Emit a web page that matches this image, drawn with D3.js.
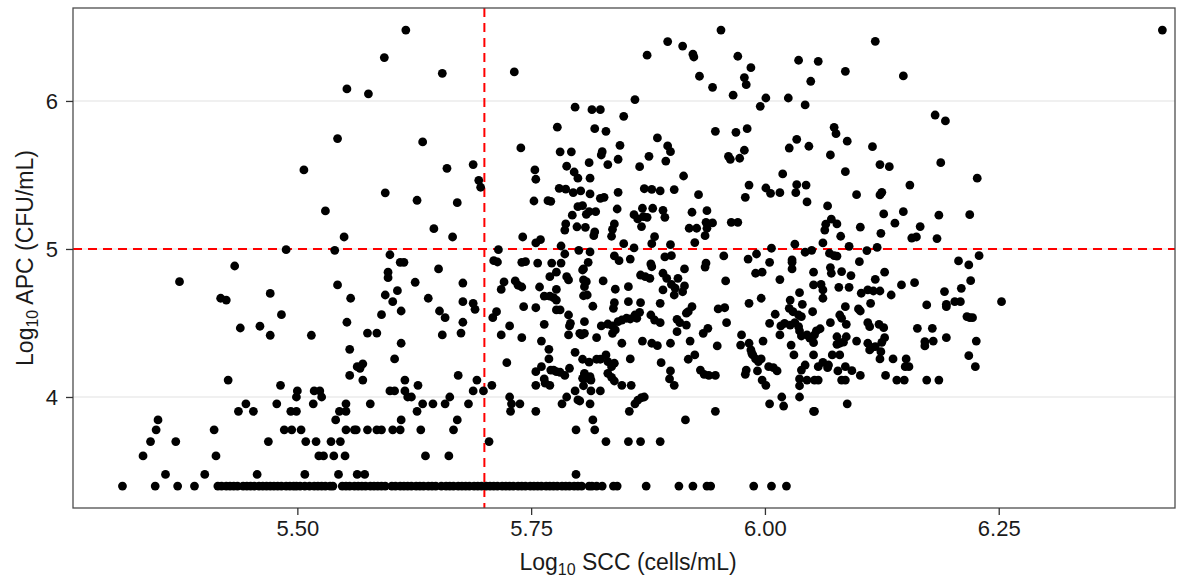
<!DOCTYPE html>
<html>
<head>
<meta charset="utf-8">
<script src="https://cdn.jsdelivr.net/npm/d3@7"></script>
<style>
  html, body { margin: 0; padding: 0; background: #ffffff; }
  svg { display: block; font-family: "Liberation Sans", Arial, Helvetica, sans-serif; }
</style>
</head>
<body>
<svg id="chart" width="1178" height="581"></svg>
<script>
// Axis settings: log10 SCC (cells/mL) on x, log10 APC (CFU/mL) on y
const xTicks = [5.50, 5.75, 6.00, 6.25];
const xTickLabels = ["5.50", "5.75", "6.00", "6.25"];
const yTicks = [4, 5, 6];
const yTickLabels = ["4", "5", "6"];
const sccThreshold = 5.7;   // vertical reference line
const apcThreshold = 5.0;   // horizontal reference line

// Samples whose APC sits at the detection limit (log10 2500 CFU/mL)
const floorApc = 3.398;
const floorScc = [5.313,5.348,5.372,5.390,5.415,5.419,5.424,5.428,5.432,5.436,5.442,5.446,5.450,5.454,5.459,5.463,5.467,5.471,5.475,5.479,5.483,5.488,5.492,5.496,5.499,5.503,5.508,5.513,5.518,5.522,5.526,5.530,5.535,5.538,5.548,5.552,5.556,5.561,5.565,5.569,5.573,5.578,5.582,5.586,5.590,5.594,5.601,5.605,5.610,5.614,5.618,5.622,5.627,5.631,5.635,5.640,5.644,5.648,5.654,5.659,5.663,5.667,5.672,5.676,5.680,5.684,5.689,5.693,5.697,5.702,5.706,5.710,5.714,5.719,5.723,5.727,5.731,5.736,5.740,5.744,5.749,5.753,5.757,5.761,5.766,5.770,5.774,5.778,5.783,5.787,5.791,5.796,5.800,5.804,5.812,5.815,5.820,5.826,5.838,5.842,5.873,5.908,5.923,5.938,5.942,5.988,6.007,6.023];

// [log10 SCC, log10 APC] pairs, upper part of the cloud
const samplesUpper = [
[5.553,6.081],[5.543,5.746],[5.507,5.534],[5.530,5.257],[5.550,5.081],[5.488,4.995],[5.540,4.991],[5.433,4.885],
[5.616,6.479],[5.593,6.293],[5.655,6.187],[5.732,6.196],[5.576,6.048],[5.797,5.958],[5.778,5.823],[5.634,5.723],[5.739,5.683],[5.781,5.656],[5.793,5.656],[5.660,5.545],[5.688,5.570],[5.788,5.559],[5.796,5.520],[5.800,5.478],[5.754,5.534],[5.755,5.471],[5.694,5.464],[5.696,5.417],[5.594,5.379],[5.780,5.410],[5.787,5.404],[5.795,5.381],[5.803,5.392],[5.813,5.372],[5.628,5.329],[5.671,5.313],[5.753,5.324],[5.768,5.326],[5.771,5.322],[5.800,5.286],[5.805,5.293],[5.794,5.228],[5.809,5.234],[5.787,5.169],[5.786,5.128],[5.799,5.150],[5.808,5.146],[5.646,5.137],[5.666,5.081],[5.741,5.081],[5.755,5.041],[5.760,5.063],[5.782,5.020],[5.786,4.966],[5.801,4.991],[5.715,4.995],[5.599,4.961],[5.610,4.910],[5.614,4.910],[5.710,4.921],[5.714,4.912],[5.740,4.910],[5.744,4.914],[5.757,4.905],[5.772,4.905],[5.782,4.905],[5.811,4.910],
[5.953,6.479],[5.896,6.401],[5.912,6.371],[5.874,6.309],[5.923,6.316],[5.924,6.297],[5.971,6.302],[5.985,6.225],[6.036,6.275],[6.057,6.268],[5.930,6.167],[5.978,6.158],[5.980,6.110],[5.944,6.092],[6.049,6.133],[5.966,6.039],[6.001,6.020],[5.861,6.009],[6.025,6.020],[5.995,5.964],[6.043,5.973],[5.815,5.941],[5.824,5.941],[5.849,5.896],[5.818,5.813],[5.830,5.795],[5.947,5.795],[5.969,5.788],[5.981,5.813],[5.885,5.750],[6.034,5.741],[5.845,5.700],[5.896,5.696],[5.899,5.657],[6.026,5.682],[6.047,5.694],[5.978,5.667],[5.826,5.657],[5.825,5.635],[5.961,5.626],[5.963,5.606],[5.973,5.613],[5.876,5.626],[5.843,5.606],[5.894,5.594],[5.812,5.583],[5.832,5.570],[5.866,5.556],[5.913,5.493],[6.019,5.507],[5.813,5.478],[5.983,5.432],[6.001,5.412],[6.006,5.376],[6.016,5.380],[6.034,5.434],[6.033,5.380],[6.044,5.432],[6.045,5.318],[5.871,5.407],[5.879,5.403],[5.888,5.392],[5.903,5.401],[5.843,5.383],[5.929,5.367],[5.824,5.342],[5.828,5.349],[5.979,5.349],[5.812,5.252],[5.819,5.252],[5.842,5.270],[5.869,5.275],[5.880,5.275],[5.860,5.232],[5.864,5.203],[5.870,5.218],[5.874,5.214],[5.868,5.151],[5.891,5.261],[5.893,5.214],[5.922,5.248],[5.938,5.259],[5.937,5.180],[5.944,5.176],[5.938,5.140],[5.936,5.090],[5.964,5.180],[5.971,5.180],[5.919,5.140],[5.927,5.140],[5.839,5.169],[5.837,5.133],[5.836,5.086],[5.818,5.115],[5.817,5.090],[5.882,5.083],[5.879,5.036],[5.925,5.043],[5.849,5.036],[5.899,5.029],[5.860,5.007],[5.813,4.980],[6.007,5.005],[6.032,5.032],[6.043,4.978],[6.050,4.991],[5.991,4.966],[5.956,4.953],[5.982,4.932],[5.839,4.953],[5.844,4.921],[5.856,4.932],[5.893,4.946],[5.900,4.955],[5.878,4.899],[5.937,4.905],[6.005,4.910],[6.029,4.910],
[6.118,6.403],[6.086,6.200],[6.148,6.169],[6.182,5.905],[6.193,5.865],[6.074,5.822],[6.076,5.779],[6.088,5.728],[6.115,5.691],[6.070,5.635],[6.188,5.583],[6.123,5.570],[6.133,5.556],[6.086,5.522],[6.227,5.478],[6.155,5.432],[6.098,5.367],[6.123,5.365],[6.125,5.383],[6.067,5.291],[6.127,5.237],[6.148,5.252],[6.186,5.228],[6.219,5.232],[6.071,5.201],[6.065,5.167],[6.064,5.128],[6.077,5.169],[6.102,5.147],[6.139,5.174],[6.166,5.151],[6.081,5.086],[6.124,5.106],[6.157,5.074],[6.162,5.081],[6.184,5.070],[6.062,5.041],[6.090,5.018],[6.120,5.011],[6.109,4.989],[6.069,4.971],[6.074,4.955],[6.077,4.951],[6.101,4.914],[6.207,4.919],[6.218,4.892],[6.229,4.955],[6.425,6.479]
];

// [log10 SCC, log10 APC] pairs, lower part of the cloud
const samplesLower = [
[5.374,4.779],[5.418,4.667],[5.424,4.655],[5.471,4.700],[5.543,4.757],[5.557,4.667],[5.483,4.556],[5.439,4.466],[5.460,4.478],[5.471,4.417],[5.515,4.417],[5.553,4.505],[5.556,4.322],[5.564,4.205],[5.567,4.194],[5.570,4.224],[5.556,4.146],[5.570,4.114],[5.426,4.114],[5.482,4.079],[5.500,4.041],[5.499,4.000],[5.518,4.041],[5.524,4.041],[5.526,4.000],[5.478,3.954],[5.445,3.954],[5.437,3.903],[5.453,3.903],[5.517,3.954],[5.552,3.954],[5.493,3.903],[5.499,3.903],[5.545,3.903],[5.552,3.903],[5.541,3.845],[5.351,3.845],[5.349,3.778],[5.343,3.699],[5.370,3.699],[5.335,3.602],[5.411,3.778],[5.413,3.602],[5.486,3.778],[5.494,3.778],[5.504,3.778],[5.469,3.699],[5.509,3.699],[5.520,3.699],[5.536,3.699],[5.546,3.699],[5.552,3.778],[5.561,3.778],[5.523,3.602],[5.528,3.602],[5.539,3.602],[5.551,3.602],
[5.359,3.477],[5.401,3.477],[5.457,3.477],[5.508,3.477],[5.544,3.477],[5.564,3.477],[5.572,3.477],[5.798,3.477],
[5.597,4.843],[5.597,4.806],[5.651,4.865],[5.626,4.775],[5.677,4.770],[5.607,4.718],[5.594,4.689],[5.602,4.644],[5.640,4.667],[5.677,4.644],[5.688,4.633],[5.690,4.592],[5.611,4.581],[5.652,4.581],[5.658,4.536],[5.590,4.556],[5.677,4.505],[5.575,4.432],[5.585,4.432],[5.655,4.419],[5.675,4.432],[5.611,4.363],[5.604,4.257],[5.615,4.114],[5.672,4.146],[5.692,4.114],[5.599,4.041],[5.604,4.041],[5.615,4.041],[5.618,4.000],[5.622,4.000],[5.629,4.079],[5.688,4.041],[5.699,4.041],[5.708,4.079],[5.663,4.000],[5.578,3.954],[5.634,3.954],[5.645,3.954],[5.658,3.954],[5.683,3.954],[5.628,3.903],[5.611,3.845],[5.671,3.845],[5.563,3.778],[5.575,3.778],[5.585,3.778],[5.590,3.778],[5.602,3.778],[5.610,3.778],[5.632,3.778],[5.667,3.778],[5.705,3.699],[5.637,3.602],[5.662,3.602],
[5.777,4.843],[5.770,4.813],[5.788,4.813],[5.790,4.791],[5.805,4.858],[5.721,4.777],[5.718,4.727],[5.733,4.784],[5.736,4.755],[5.740,4.743],[5.759,4.743],[5.777,4.727],[5.764,4.682],[5.770,4.682],[5.774,4.671],[5.777,4.655],[5.742,4.610],[5.755,4.603],[5.777,4.588],[5.781,4.588],[5.790,4.554],[5.713,4.576],[5.709,4.536],[5.727,4.480],[5.764,4.491],[5.792,4.498],[5.791,4.480],[5.807,4.509],[5.718,4.419],[5.740,4.401],[5.761,4.378],[5.769,4.322],[5.790,4.419],[5.802,4.430],[5.804,4.419],[5.797,4.302],[5.769,4.257],[5.724,4.232],[5.761,4.205],[5.755,4.171],[5.771,4.182],[5.774,4.182],[5.777,4.171],[5.781,4.167],[5.786,4.146],[5.791,4.194],[5.807,4.146],[5.764,4.122],[5.765,4.093],[5.770,4.079],[5.755,4.079],[5.797,4.041],[5.806,4.076],[5.727,4.000],[5.729,3.954],[5.728,3.903],[5.738,3.954],[5.755,3.903],[5.788,4.000],[5.783,3.954],[5.800,3.980],[5.798,3.778],
[5.806,4.865],[5.806,4.791],[5.809,4.779],[5.807,4.745],[5.806,4.684],[5.810,4.689],[5.827,4.784],[5.840,4.728],[5.854,4.745],[5.867,4.824],[5.872,4.813],[5.877,4.802],[5.879,4.880],[5.891,4.836],[5.895,4.802],[5.900,4.761],[5.907,4.802],[5.904,4.735],[5.903,4.689],[5.891,4.723],[5.914,4.865],[5.914,4.750],[5.912,4.711],[5.936,4.878],[5.958,4.784],[5.990,4.836],[5.997,4.843],[6.016,4.793],[5.816,4.613],[5.838,4.599],[5.839,4.637],[5.854,4.644],[5.867,4.637],[5.888,4.633],[5.922,4.610],[5.918,4.576],[5.916,4.566],[5.950,4.595],[5.957,4.603],[5.983,4.633],[5.996,4.667],[5.807,4.430],[5.825,4.480],[5.832,4.493],[5.837,4.480],[5.840,4.453],[5.843,4.509],[5.847,4.520],[5.852,4.532],[5.856,4.527],[5.861,4.554],[5.866,4.572],[5.863,4.532],[5.837,4.430],[5.878,4.554],[5.882,4.520],[5.888,4.502],[5.906,4.525],[5.909,4.502],[5.916,4.486],[5.906,4.441],[5.934,4.430],[5.939,4.464],[5.959,4.502],[5.820,4.401],[5.847,4.363],[5.869,4.378],[5.879,4.363],[5.885,4.347],[5.899,4.363],[5.920,4.378],[5.949,4.345],[5.975,4.419],[5.974,4.351],[5.983,4.363],[5.985,4.318],[5.987,4.284],[5.990,4.257],[5.986,4.295],[5.993,4.239],[5.996,4.257],[5.998,4.378],[5.805,4.255],[5.812,4.235],[5.820,4.255],[5.824,4.255],[5.830,4.284],[5.832,4.239],[5.836,4.205],[5.839,4.228],[5.856,4.257],[5.889,4.232],[5.918,4.255],[5.925,4.284],[5.807,4.160],[5.810,4.126],[5.813,4.137],[5.805,4.126],[5.814,4.114],[5.832,4.160],[5.836,4.133],[5.839,4.108],[5.847,4.079],[5.857,4.079],[5.899,4.176],[5.898,4.122],[5.903,4.079],[5.931,4.182],[5.935,4.153],[5.940,4.146],[5.947,4.146],[5.979,4.153],[5.980,4.182],[5.992,4.176],[5.997,4.114],[6.001,4.079],[6.004,4.205],[6.009,4.198],[6.013,4.176],[5.814,4.041],[5.824,4.041],[5.813,3.954],[5.802,3.973],[5.816,3.845],[5.818,3.778],[5.861,3.954],[5.864,3.978],[5.868,3.995],[5.871,4.000],[5.855,3.903],[5.915,3.845],[5.947,3.903],[5.830,3.699],[5.854,3.699],[5.867,3.699],[5.888,3.699],[6.005,3.954],
[6.005,4.498],[6.011,4.559],[6.017,4.480],[6.016,4.419],[6.027,4.655],[6.026,4.599],[6.030,4.576],[6.028,4.351],[6.031,4.284],[6.037,4.705],[6.040,4.626],[6.036,4.554],[6.039,4.543],[6.051,4.576],[6.055,4.446],[6.059,4.461],[6.053,4.419],[6.052,4.367],[6.048,4.397],[6.021,4.498],[6.027,4.486],[6.032,4.502],[6.036,4.475],[6.037,4.446],[6.039,4.412],[6.045,4.419],[6.029,4.926],[6.029,4.865],[6.052,4.757],[6.060,4.761],[6.018,4.000],[6.020,3.939],[6.037,4.000],[6.037,4.122],[6.037,4.076],[6.045,4.114],[6.039,4.182],[6.043,4.216],[6.052,3.903],[6.053,4.114],
[6.052,4.843],[6.070,4.874],[6.071,4.836],[6.082,4.847],[6.092,4.820],[6.128,4.843],[6.118,4.795],[6.062,4.723],[6.062,4.667],[6.079,4.741],[6.090,4.741],[6.103,4.701],[6.110,4.723],[6.116,4.716],[6.123,4.716],[6.113,4.633],[6.135,4.689],[6.146,4.757],[6.160,4.772],[6.086,4.610],[6.100,4.595],[6.102,4.581],[6.080,4.554],[6.082,4.532],[6.087,4.491],[6.070,4.502],[6.110,4.502],[6.112,4.475],[6.122,4.491],[6.127,4.468],[6.128,4.401],[6.125,4.369],[6.077,4.407],[6.087,4.407],[6.080,4.363],[6.077,4.356],[6.084,4.370],[6.098,4.378],[6.110,4.363],[6.114,4.333],[6.112,4.318],[6.118,4.340],[6.124,4.306],[6.123,4.257],[6.072,4.284],[6.080,4.284],[6.052,4.284],[6.062,4.234],[6.068,4.216],[6.057,4.205],[6.067,4.198],[6.078,4.176],[6.086,4.205],[6.093,4.178],[6.102,4.146],[6.057,4.114],[6.082,4.114],[6.086,4.114],[6.129,4.146],[6.137,4.257],[6.151,4.257],[6.150,4.205],[6.154,4.205],[6.141,4.114],[6.149,4.114],[6.173,4.622],[6.163,4.464],[6.179,4.464],[6.171,4.374],[6.171,4.345],[6.180,4.378],[6.194,4.401],[6.173,4.114],[6.186,4.114],[6.192,4.712],[6.194,4.610],[6.194,4.626],[6.203,4.644],[6.209,4.644],[6.210,4.734],[6.220,4.786],[6.216,4.543],[6.219,4.536],[6.222,4.536],[6.226,4.378],[6.218,4.279],[6.225,4.205],[6.253,4.644],[6.053,3.903],[6.088,3.954]
];

const points = samplesUpper.concat(samplesLower)
  .concat(floorScc.map(s => [s, floorApc]));

const svg = d3.select("#chart");
const margin = { left: 73, top: 8, right: 3, bottom: 73 };
const width = 1178 - margin.left - margin.right;
const height = 581 - margin.top - margin.bottom;

const x = d3.scaleLinear().domain([5.2601, 6.4385]).range([0, width]);
const y = d3.scaleLinear().domain([3.25, 6.628]).range([height, 0]);

const g = svg.append("g").attr("transform", `translate(${margin.left},${margin.top})`);

// horizontal major grid
g.append("g").selectAll("line").data(yTicks).join("line")
  .attr("x1", 0).attr("x2", width)
  .attr("y1", d => y(d)).attr("y2", d => y(d))
  .attr("stroke", "#ebebeb").attr("stroke-width", 1.6);

// reference lines
const refStyle = sel => sel.attr("stroke", "#ff0000").attr("stroke-width", 2)
  .attr("stroke-dasharray", "9,6").attr("fill", "none");
g.append("line").attr("x1", x(sccThreshold)).attr("x2", x(sccThreshold))
  .attr("y1", 0).attr("y2", height).call(refStyle);
g.append("line").attr("x1", 0).attr("x2", width)
  .attr("y1", y(apcThreshold)).attr("y2", y(apcThreshold)).call(refStyle);

// points
g.append("g").selectAll("circle").data(points).join("circle")
  .attr("cx", d => x(d[0])).attr("cy", d => y(d[1]))
  .attr("r", 4.4).attr("fill", "#000000");

// panel border
g.append("rect").attr("x", 0).attr("y", 0).attr("width", width).attr("height", height)
  .attr("fill", "none").attr("stroke", "#4d4d4d").attr("stroke-width", 1.3);

// axes
const xAxis = d3.axisBottom(x).tickValues(xTicks)
  .tickFormat((d, i) => xTickLabels[i]).tickSize(7).tickPadding(5);
const gx = g.append("g").attr("transform", `translate(0,${height})`).call(xAxis);
gx.select(".domain").remove();
gx.selectAll(".tick line").attr("stroke", "#333333").attr("stroke-width", 1.3);
gx.selectAll(".tick text").attr("fill", "#1a1a1a")
  .style("font-size", "22px").style("font-family", "Liberation Sans, Arial, sans-serif");

const yAxis = d3.axisLeft(y).tickValues(yTicks)
  .tickFormat((d, i) => yTickLabels[i]).tickSize(7).tickPadding(8);
const gy = g.append("g").call(yAxis);
gy.select(".domain").remove();
gy.selectAll(".tick line").attr("stroke", "#333333").attr("stroke-width", 1.3);
gy.selectAll(".tick text").attr("fill", "#1a1a1a")
  .style("font-size", "22px").style("font-family", "Liberation Sans, Arial, sans-serif");

// axis titles with subscript
function titleText(sel, base, rest) {
  sel.append("tspan").text(base);
  sel.append("tspan").attr("font-size", "16px").attr("dy", "5").text("10");
  sel.append("tspan").attr("dy", "-5").text(rest);
}
svg.append("text")
  .attr("x", margin.left + width / 2 + 4).attr("y", 570)
  .attr("text-anchor", "middle").attr("fill", "#1a1a1a")
  .style("font-size", "23px")
  .call(titleText, "Log", " SCC (cells/mL)");

svg.append("text")
  .attr("transform", `translate(33,${margin.top + height / 2}) rotate(-90)`)
  .attr("text-anchor", "middle").attr("fill", "#1a1a1a")
  .style("font-size", "23px")
  .call(titleText, "Log", " APC (CFU/mL)");
</script>
</body>
</html>
